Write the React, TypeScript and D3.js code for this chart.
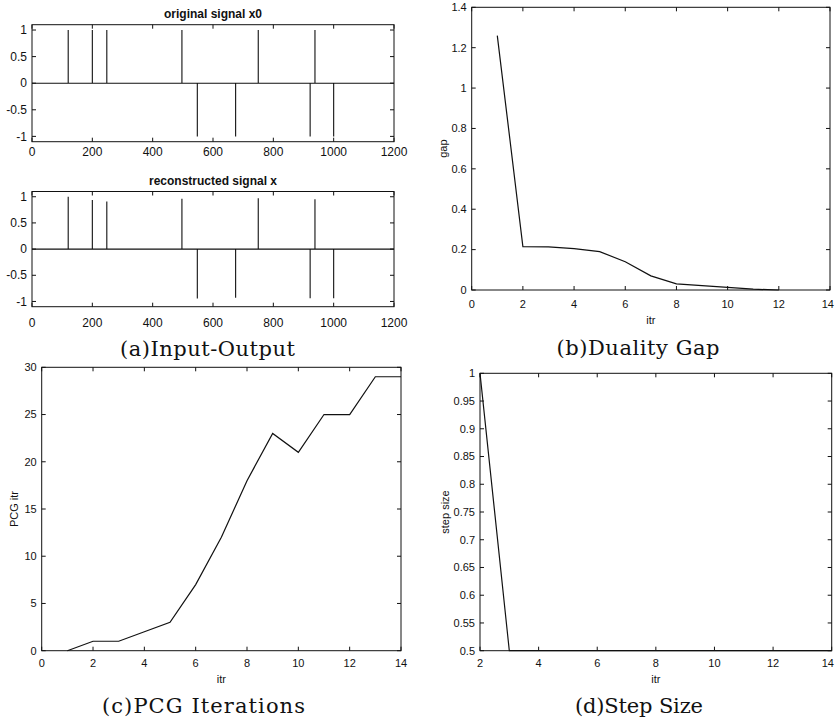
import * as d3 from 'd3';

// signal spikes (sample index, amplitude)
const spikeIdx = [120, 200, 248, 497, 548, 675, 750, 922, 938, 1000];
const x0Amp = [1, 1, 1, 1, -1, -1, 1, -1, 1, -1];
const xAmp = [1.0, 0.94, 0.91, 0.96, -0.945, -0.93, 0.97, -0.94, 0.95, -0.94];
const signalLength = 1200;
const signalTicksX = [0, 200, 400, 600, 800, 1000, 1200];
const signalTicksY = [-1, -0.5, 0, 0.5, 1];

// duality gap per iteration
const gapItr = [1, 2, 3, 4, 5, 6, 7, 8, 9, 10, 11, 12];
const gapVal = [1.26, 0.215, 0.214, 0.205, 0.19, 0.14, 0.07, 0.03, 0.022, 0.013, 0.004, 0.0];
const gapTicksY = [0, 0.2, 0.4, 0.6, 0.8, 1, 1.2, 1.4];

// PCG iterations per iteration
const pcgItr = [1, 2, 3, 4, 5, 6, 7, 8, 9, 10, 11, 12, 13, 14];
const pcgVal = [0, 1, 1, 2, 3, 7, 12, 18, 23, 21, 25, 25, 29, 29];
const pcgTicksY = [0, 5, 10, 15, 20, 25, 30];

// step size per iteration
const stepItr = [2, 3, 4, 5, 6, 7, 8, 9, 10, 11, 12, 13, 14];
const stepVal = [1, 0.5, 0.5, 0.5, 0.5, 0.5, 0.5, 0.5, 0.5, 0.5, 0.5, 0.5, 0.5];
const stepTicksY = [0.5, 0.55, 0.6, 0.65, 0.7, 0.75, 0.8, 0.85, 0.9, 0.95, 1];

const itrTicks = [0, 2, 4, 6, 8, 10, 12, 14];
const stepTicksX = [2, 4, 6, 8, 10, 12, 14];

const W = 835;
const H = 721;
const sans = '"Liberation Sans", Arial, Helvetica, sans-serif';
const serif = '"DejaVu Serif", "Liberation Serif", serif';

type Pt = [number, number];

type PanelProps = {
  box: [number, number, number, number];
  xDomain: [number, number];
  yDomain: [number, number];
  xTicks: number[];
  yTicks: number[];
  points: Pt[];
  fontSize: number;
  xLabelGap: number;
  title?: string;
  xLabel?: string;
  yLabel?: string;
  yLabelX?: number;
  lineWidth?: number;
};

function Panel(p: PanelProps) {
  const [l, t, r, b] = p.box;
  const x = d3.scaleLinear().domain(p.xDomain).range([l, r]);
  const y = d3.scaleLinear().domain(p.yDomain).range([b, t]);
  const line = d3
    .line<Pt>()
    .x((d) => x(d[0]))
    .y((d) => y(d[1]));
  const tk = 4;
  return (
    <g>
      <path d={line(p.points) || ''} fill="none" stroke="#111" strokeWidth={p.lineWidth ?? 1.2} />
      <rect x={l} y={t} width={r - l} height={b - t} fill="none" stroke="#111" strokeWidth={1} />
      {p.xTicks.map((v) => {
        // keep the last label inside the page
        const half = (String(v).length * p.fontSize * 0.556) / 2;
        const lx = Math.min(x(v), W - half - 1);
        return (
          <g key={'x' + v}>
            <line x1={x(v)} x2={x(v)} y1={b} y2={b - tk} stroke="#111" />
            <line x1={x(v)} x2={x(v)} y1={t} y2={t + tk} stroke="#111" />
            <text
              x={lx}
              y={b + p.xLabelGap}
              textAnchor="middle"
              fontSize={p.fontSize}
              fontFamily={sans}
              fill="#111"
            >
              {String(v)}
            </text>
          </g>
        );
      })}
      {p.yTicks.map((v) => (
        <g key={'y' + v}>
          <line x1={l} x2={l + tk} y1={y(v)} y2={y(v)} stroke="#111" />
          <line x1={r} x2={r - tk} y1={y(v)} y2={y(v)} stroke="#111" />
          <text
            x={l - 5}
            y={y(v)}
            dy="0.35em"
            textAnchor="end"
            fontSize={p.fontSize}
            fontFamily={sans}
            fill="#111"
          >
            {String(v)}
          </text>
        </g>
      ))}
      {p.title && (
        <text
          x={(l + r) / 2}
          y={t - 7}
          textAnchor="middle"
          fontSize={12}
          fontWeight="bold"
          fontFamily={sans}
          fill="#111"
        >
          {p.title}
        </text>
      )}
      {p.xLabel && (
        <text
          x={(l + r) / 2}
          y={b + p.xLabelGap + 16}
          textAnchor="middle"
          fontSize={11}
          fontFamily={sans}
          fill="#111"
        >
          {p.xLabel}
        </text>
      )}
      {p.yLabel && (
        <text
          transform={`translate(${p.yLabelX},${(t + b) / 2}) rotate(-90)`}
          textAnchor="middle"
          dy="0.35em"
          fontSize={11}
          fontFamily={sans}
          fill="#111"
        >
          {p.yLabel}
        </text>
      )}
    </g>
  );
}

function spikeSignal(amp: number[]): Pt[] {
  const pts: Pt[] = [[0, 0]];
  spikeIdx.forEach((s, i) => {
    pts.push([s, 0], [s, amp[i]], [s, 0]);
  });
  pts.push([signalLength, 0]);
  return pts;
}

function Caption({ x, y, text, len }: { x: number; y: number; text: string; len: number }) {
  return (
    <text
      x={x - len / 2}
      y={y}
      fontSize={21}
      fontFamily={serif}
      fill="#111"
      textLength={len}
      lengthAdjust="spacing"
    >
      {text}
    </text>
  );
}

export default function App() {
  const zip = (a: number[], b: number[]): Pt[] => a.map((v, i) => [v, b[i]]);
  return (
    <svg
      width={W}
      height={H}
      style={{ position: 'absolute', left: 0, top: 0, background: '#fff' }}
    >
      <Panel
        box={[32, 24.7, 394, 141.7]}
        xDomain={[0, signalLength]}
        yDomain={[-1.1, 1.1]}
        xTicks={signalTicksX}
        yTicks={signalTicksY}
        points={spikeSignal(x0Amp)}
        fontSize={12}
        xLabelGap={14}
        title="original signal x0"
        lineWidth={1.1}
      />
      <Panel
        box={[32, 191.5, 394, 306.7]}
        xDomain={[0, signalLength]}
        yDomain={[-1.1, 1.1]}
        xTicks={signalTicksX}
        yTicks={signalTicksY}
        points={spikeSignal(xAmp)}
        fontSize={12}
        xLabelGap={20}
        title="reconstructed signal x"
        lineWidth={1.1}
      />
      <Panel
        box={[471.7, 7.3, 830, 290]}
        xDomain={[0, 14]}
        yDomain={[0, 1.4]}
        xTicks={itrTicks}
        yTicks={gapTicksY}
        points={zip(gapItr, gapVal)}
        fontSize={11}
        xLabelGap={18}
        xLabel="itr"
        yLabel="gap"
        yLabelX={443}
      />
      <Panel
        box={[41.7, 367.3, 401, 650.7]}
        xDomain={[0, 14]}
        yDomain={[0, 30]}
        xTicks={itrTicks}
        yTicks={pcgTicksY}
        points={zip(pcgItr, pcgVal)}
        fontSize={11}
        xLabelGap={16}
        xLabel="itr"
        yLabel="PCG itr"
        yLabelX={14}
      />
      <Panel
        box={[480, 373.3, 831.7, 650.7]}
        xDomain={[2, 14]}
        yDomain={[0.5, 1]}
        xTicks={stepTicksX}
        yTicks={stepTicksY}
        points={zip(stepItr, stepVal)}
        fontSize={11}
        xLabelGap={16}
        xLabel="itr"
        yLabel="step size"
        yLabelX={445}
      />
      <Caption x={207.5} y={356} text="(a)Input-Output" len={175} />
      <Caption x={638} y={355} text="(b)Duality Gap" len={163} />
      <Caption x={203.5} y={713} text="(c)PCG Iterations" len={203} />
      <Caption x={639} y={713} text="(d)Step Size" len={128} />
    </svg>
  );
}
